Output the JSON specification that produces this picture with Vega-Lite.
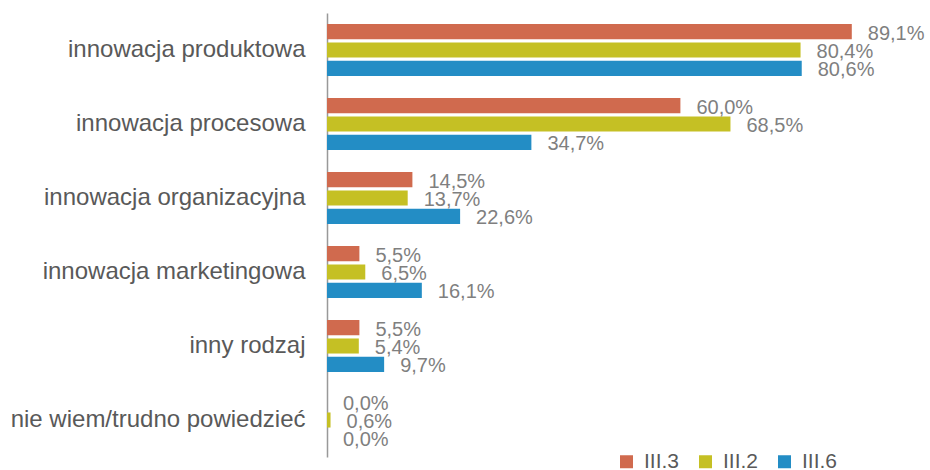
{
  "$schema": "https://vega.github.io/schema/vega-lite/v6.json",
  "autosize": "none",
  "width": 589,
  "height": 444,
  "padding": {"left": 327, "top": 13, "right": 14, "bottom": 13},
  "background": "white",
  "data": {
    "values": [
      {"kategoria": "innowacja produktowa", "seria": "III.3", "wartosc": 89.1, "etykieta": "89,1%"},
      {"kategoria": "innowacja produktowa", "seria": "III.2", "wartosc": 80.4, "etykieta": "80,4%"},
      {"kategoria": "innowacja produktowa", "seria": "III.6", "wartosc": 80.6, "etykieta": "80,6%"},
      {"kategoria": "innowacja procesowa", "seria": "III.3", "wartosc": 60.0, "etykieta": "60,0%"},
      {"kategoria": "innowacja procesowa", "seria": "III.2", "wartosc": 68.5, "etykieta": "68,5%"},
      {"kategoria": "innowacja procesowa", "seria": "III.6", "wartosc": 34.7, "etykieta": "34,7%"},
      {"kategoria": "innowacja organizacyjna", "seria": "III.3", "wartosc": 14.5, "etykieta": "14,5%"},
      {"kategoria": "innowacja organizacyjna", "seria": "III.2", "wartosc": 13.7, "etykieta": "13,7%"},
      {"kategoria": "innowacja organizacyjna", "seria": "III.6", "wartosc": 22.6, "etykieta": "22,6%"},
      {"kategoria": "innowacja marketingowa", "seria": "III.3", "wartosc": 5.5, "etykieta": "5,5%"},
      {"kategoria": "innowacja marketingowa", "seria": "III.2", "wartosc": 6.5, "etykieta": "6,5%"},
      {"kategoria": "innowacja marketingowa", "seria": "III.6", "wartosc": 16.1, "etykieta": "16,1%"},
      {"kategoria": "inny rodzaj", "seria": "III.3", "wartosc": 5.5, "etykieta": "5,5%"},
      {"kategoria": "inny rodzaj", "seria": "III.2", "wartosc": 5.4, "etykieta": "5,4%"},
      {"kategoria": "inny rodzaj", "seria": "III.6", "wartosc": 9.7, "etykieta": "9,7%"},
      {"kategoria": "nie wiem/trudno powiedzieć", "seria": "III.3", "wartosc": 0.0, "etykieta": "0,0%"},
      {"kategoria": "nie wiem/trudno powiedzieć", "seria": "III.2", "wartosc": 0.6, "etykieta": "0,6%"},
      {"kategoria": "nie wiem/trudno powiedzieć", "seria": "III.6", "wartosc": 0.0, "etykieta": "0,0%"}
    ]
  },
  "encoding": {
    "y": {
      "field": "kategoria", "type": "nominal", "sort": null,
      "scale": {"paddingInner": 0.3, "paddingOuter": 0.15},
      "axis": {
        "title": null, "ticks": false, "labelPadding": 22, "labelFontSize": 24,
        "labelFont": "Liberation Sans", "labelColor": "#595959",
        "domainColor": "#999999", "domainWidth": 1.5, "labelLimit": 400
      }
    },
    "yOffset": {
      "field": "seria", "type": "nominal", "sort": ["III.3", "III.2", "III.6"],
      "scale": {"paddingInner": 0.18, "paddingOuter": 0}
    },
    "x": {
      "field": "wartosc", "type": "quantitative",
      "scale": {"domain": [0, 100], "nice": false},
      "axis": null
    }
  },
  "layer": [
    {
      "mark": {"type": "bar"},
      "encoding": {
        "color": {
          "field": "seria", "type": "nominal",
          "sort": ["III.3", "III.2", "III.6"],
          "scale": {"domain": ["III.3", "III.2", "III.6"], "range": ["#D06A4E", "#C5C024", "#238DC5"]},
          "legend": {
            "title": null, "orient": "none", "direction": "horizontal",
            "legendX": 289, "legendY": 438,
            "symbolType": "square", "symbolSize": 169, "symbolStrokeWidth": 0,
            "labelFontSize": 21, "labelFont": "Liberation Sans", "labelColor": "#595959",
            "columnPadding": 15, "labelOffset": 7
          }
        }
      }
    },
    {
      "mark": {"type": "text", "align": "left", "baseline": "middle", "dx": 16, "dy": 2, "fontSize": 20, "font": "Liberation Sans", "color": "#7F7F7F"},
      "encoding": {"text": {"field": "etykieta"}}
    }
  ],
  "config": {"view": {"stroke": null}}
}
